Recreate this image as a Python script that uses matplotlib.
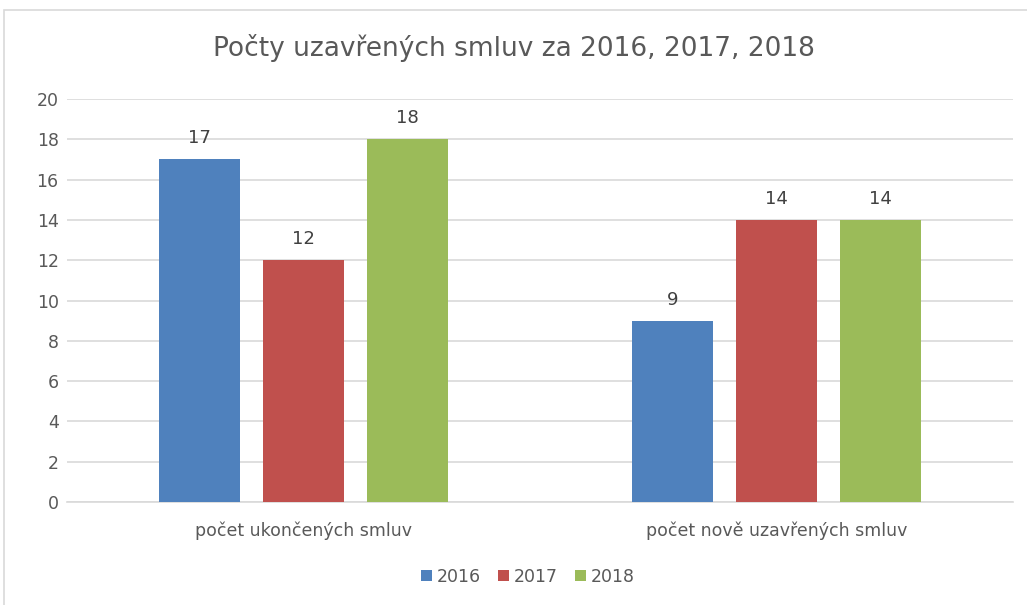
import matplotlib.pyplot as plt
import numpy as np
from matplotlib.patches import Rectangle

categories = ["počet ukončených smluv", "počet nově uzavřených smluv"]
years = ["2016", "2017", "2018"]
values_2016 = [17, 9]
values_2017 = [12, 14]
values_2018 = [18, 14]
colors = ["#4F81BD", "#C0504D", "#9BBB59"]
text_color = "#595959"

plt.rcParams['font.family'] = ['DejaVu Sans']

fig = plt.figure(figsize=(10.27, 6.05), dpi=100)
# chart frame: only top and left edges are visible in the crop
fig.patches.append(Rectangle((4 / 1027, -0.05), 1.2, 1.05 - 10 / 605, transform=fig.transFigure,
                             fill=False, edgecolor="#D9D9D9", linewidth=1.2, clip_on=True))
ax = fig.add_axes([67 / 1027, 1 - 502 / 605, (1013 - 67) / 1027, (502 - 99) / 605])

x = np.arange(len(categories))
width = 0.173
pitch = 0.22
series = [values_2016, values_2017, values_2018]
for i, (vals, year, c) in enumerate(zip(series, years, colors)):
    bars = ax.bar(x + (i - 1) * pitch, vals, width, color=c, label=year, zorder=3)
    for b, v in zip(bars, vals):
        ax.text(b.get_x() + b.get_width() / 2, v + 0.6, str(v), ha="center", va="bottom",
                fontsize=13, color="#404040")

ax.set_xlim(-0.5, 1.5)
ax.set_ylim(0, 20)
ax.set_yticks(range(0, 21, 2))
ax.yaxis.grid(True, color="#D9D9D9", linewidth=1.2, zorder=0)
ax.set_xticks(x)
ax.set_xticklabels(categories)
ax.tick_params(axis="both", length=0, labelsize=12.5, colors=text_color)
ax.tick_params(axis="x", pad=14)
ax.tick_params(axis="y", pad=6)
for s in ["top", "right", "left"]:
    ax.spines[s].set_visible(False)
ax.spines["bottom"].set_color("#D9D9D9")
ax.spines["bottom"].set_linewidth(1.2)

fig.text(0.5, 1 - 48 / 605, "Počty uzavřených smluv za 2016, 2017, 2018", ha="center", va="center",
         fontsize=19, color=text_color)

fig.legend(loc="center", bbox_to_anchor=(528 / 1027, 1 - 577 / 605), ncol=3, frameon=False,
           fontsize=12.5, labelcolor=text_color, handlelength=0.6, handleheight=0.6,
           handletextpad=0.3, columnspacing=1.0)

fig.savefig("out.png", dpi=100, facecolor="white")
